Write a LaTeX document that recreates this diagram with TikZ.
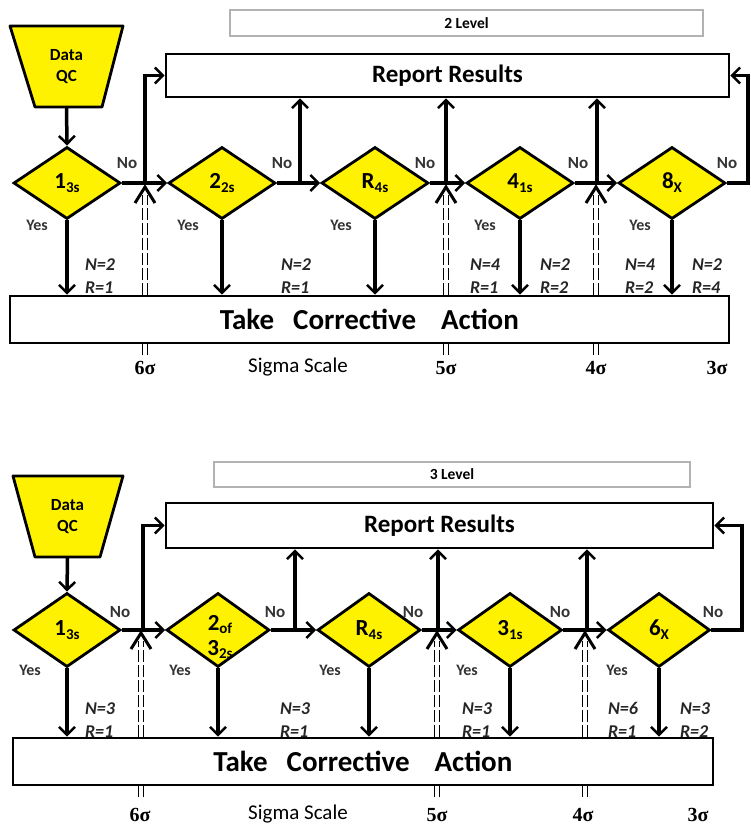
\documentclass[tikz,border=0pt]{standalone}
\usepackage{fontspec}
\setmainfont{Carlito}
\newfontfamily\grk{Liberation Serif}
\usetikzlibrary{arrows.meta,shapes.geometric}
\newcommand\sbs[1]{\raisebox{-0.35ex}{\fontsize{15}{15}\selectfont #1}}
\tikzset{
 dia/.style={diamond, draw, line width=2.8pt, fill=yellow, minimum width=107pt, minimum height=72pt, inner sep=0pt, aspect=1.48, font=\bfseries\fontsize{23}{23}\selectfont},
 boxnode/.style={draw, line width=2.8pt, fill=white, inner sep=0pt},
 lvlbox/.style={draw=black!30, line width=1.2pt, fill=white, inner sep=0pt, font=\bfseries\fontsize{15.5}{15.5}\selectfont},
 arr/.style={line width=3.5pt, -{Straight Barb[length=8pt,width=16pt,line width=2.5pt]}},
 yeslbl/.style={font=\bfseries\fontsize{16}{16}\selectfont, text=black!80},
 nolbl/.style={font=\bfseries\fontsize{17}{17}\selectfont, text=black!80},
 nrlbl/.style={font=\bfseries\itshape\fontsize{18}{23}\selectfont, align=left, text=black!85},
 siglbl/.style={font=\grk\bfseries\fontsize{20}{20}\selectfont},
 sclbl/.style={font=\fontsize{21}{21}\selectfont},
 bigtxt/.style={font=\bfseries\fontsize{25}{25}\selectfont},
 acttxt/.style={font=\bfseries\fontsize{29}{29}\selectfont},
 dqclbl/.style={font=\bfseries\fontsize{17}{21}\selectfont, align=center, inner sep=0pt},
 sigline/.style={line width=1.2pt, dash pattern=on 12pt off 3pt},
}
\newcommand\sigmark[3]{%
 \draw[sigline] (#1-2.2,#2) -- (#1-2.2,#3+8);
 \draw[sigline] (#1+2.2,#2) -- (#1+2.2,#3+8);
 \draw[line width=3pt] (#1-10,#3+16) -- (#1,#3) -- (#1+10,#3+16);}
\begin{document}
\begin{tikzpicture}[x=1pt,y=-1pt]
\useasboundingbox (0,0) rectangle (750,826);
% ================= PANEL 1 =================
\sigmark{145}{355}{187}
\sigmark{446}{355}{187}
\sigmark{596}{355}{187}
\node[lvlbox, minimum width=473pt, minimum height=26pt] (lv1) at (466.5,23) {2 Level};
\filldraw[fill=yellow, line width=2.8pt, line join=round] (10,26) -- (123,26) -- (102,107) -- (35,107) -- cycle;
\node[dqclbl, minimum width=67pt, minimum height=81pt] (dqc1) at (66.5,66.5) {Data\\QC};
\node[boxnode, bigtxt, minimum width=563pt, minimum height=43pt] (rep1) at (447.5,75.5) {Report Results};
\node[boxnode, acttxt, minimum width=719pt, minimum height=47pt] (act1) at (369.5,319.5) {Take\hspace{19pt}Corrective\hspace{25pt}Action};
\node[dia] (d11) at (67,183) {1\sbs{3s}};
\node[dia] (d12) at (222,183) {2\sbs{2s}};
\node[dia] (d13) at (375,183) {R\sbs{4s}};
\node[dia] (d14) at (520,183) {4\sbs{1s}};
\node[dia] (d15) at (672,183) {8\sbs{X}};
\coordinate (b11) at (145,183);
\coordinate (b12) at (300,183);
\coordinate (b13) at (446,183);
\coordinate (b14) at (597,183);
\coordinate (r1) at (748,183);
\draw[arr] (dqc1.south) -- (d11.north);
\draw[arr] (d11.east) -- (d12.west);
\draw[arr] (d12.east) -- (d13.west);
\draw[arr] (d13.east) -- (d14.west);
\draw[arr] (d14.east) -- (d15.west);
\draw[arr] (b11) |- (rep1.west);
\draw[arr] (b12) -- (b12 |- rep1.south);
\draw[arr] (b13) -- (b13 |- rep1.south);
\draw[arr] (b14) -- (b14 |- rep1.south);
\draw[arr] (d15.east) -- (r1) |- (rep1.east);
\foreach \d in {d11,d12,d13,d14,d15}
  \draw[arr] (\d.south) -- (\d.south |- act1.north);
\foreach \x/\y in {127/163,282/163,425/163,578/163,727/163}
  \node[nolbl] at (\x,\y) {No};
\foreach \x in {37,188,341,485,640}
  \node[yeslbl] at (\x,225) {Yes};
\node[nrlbl] at (100,276) {N=2\\R=1};
\node[nrlbl] at (296,276) {N=2\\R=1};
\node[nrlbl] at (485,276) {N=4\\R=1};
\node[nrlbl] at (555,276) {N=2\\R=2};
\node[nrlbl] at (640,276) {N=4\\R=2};
\node[nrlbl] at (707,276) {N=2\\R=4};
\node[siglbl] at (145,368) {6σ};
\node[sclbl] at (298,367) {Sigma Scale};
\node[siglbl] at (446,368) {5σ};
\node[siglbl] at (596,368) {4σ};
\node[siglbl] at (717,368) {3σ};
% ================= PANEL 2 =================
\sigmark{141}{797}{633}
\sigmark{437}{797}{633}
\sigmark{585}{797}{633}
\node[lvlbox, minimum width=476pt, minimum height=25pt] (lv2) at (452,474.5) {3 Level};
\filldraw[fill=yellow, line width=2.8pt, line join=round] (13,476) -- (123,476) -- (100,557) -- (35,557) -- cycle;
\node[dqclbl, minimum width=65pt, minimum height=81pt] (dqc2) at (67.5,516.5) {Data\\QC};
\node[boxnode, bigtxt, minimum width=547pt, minimum height=45pt] (rep2) at (439.5,525.5) {Report Results};
\node[boxnode, acttxt, minimum width=700pt, minimum height=47pt] (act2) at (363,761.5) {Take\hspace{19pt}Corrective\hspace{25pt}Action};
\node[dia, minimum height=74pt] (d21) at (67,630) {1\sbs{3s}};
\node[dia, minimum width=103pt, minimum height=74pt] (d22) at (218,630) {};
\node[dia, minimum width=103pt, minimum height=74pt] (d23) at (369,630) {R\sbs{4s}};
\node[dia, minimum width=104pt, minimum height=74pt] (d24) at (510,630) {3\sbs{1s}};
\node[dia, minimum width=102pt, minimum height=74pt] (d25) at (659,630) {6\sbs{X}};
\node[font=\bfseries\fontsize{23}{25}\selectfont, align=center, inner sep=0pt] at (220,637) {2\sbs{of}\\3\sbs{2s}};
\coordinate (b21) at (143,630);
\coordinate (b22) at (295,630);
\coordinate (b23) at (438,630);
\coordinate (b24) at (587,630);
\coordinate (r2) at (742,630);
\draw[arr] (dqc2.south) -- (d21.north);
\draw[arr] (d21.east) -- (d22.west);
\draw[arr] (d22.east) -- (d23.west);
\draw[arr] (d23.east) -- (d24.west);
\draw[arr] (d24.east) -- (d25.west);
\draw[arr] (b21) |- (rep2.west);
\draw[arr] (b22) -- (b22 |- rep2.south);
\draw[arr] (b23) -- (b23 |- rep2.south);
\draw[arr] (b24) -- (b24 |- rep2.south);
\draw[arr] (d25.east) -- (r2) |- (rep2.east);
\foreach \d in {d21,d22,d23,d24,d25}
  \draw[arr] (\d.south) -- (\d.south |- act2.north);
\foreach \x/\y in {120/612,275/612,413/612,560/612,713/612}
  \node[nolbl] at (\x,\y) {No};
\foreach \x in {30,180,330,467,617}
  \node[yeslbl] at (\x,670) {Yes};
\node[nrlbl] at (100,720) {N=3\\R=1};
\node[nrlbl] at (295,720) {N=3\\R=1};
\node[nrlbl] at (477,720) {N=3\\R=1};
\node[nrlbl] at (623,720) {N=6\\R=1};
\node[nrlbl] at (695,720) {N=3\\R=2};
\node[siglbl] at (140,815) {6σ};
\node[sclbl] at (298,814) {Sigma Scale};
\node[siglbl] at (437,815) {5σ};
\node[siglbl] at (583,815) {4σ};
\node[siglbl] at (698,815) {3σ};
\end{tikzpicture}
\end{document}
